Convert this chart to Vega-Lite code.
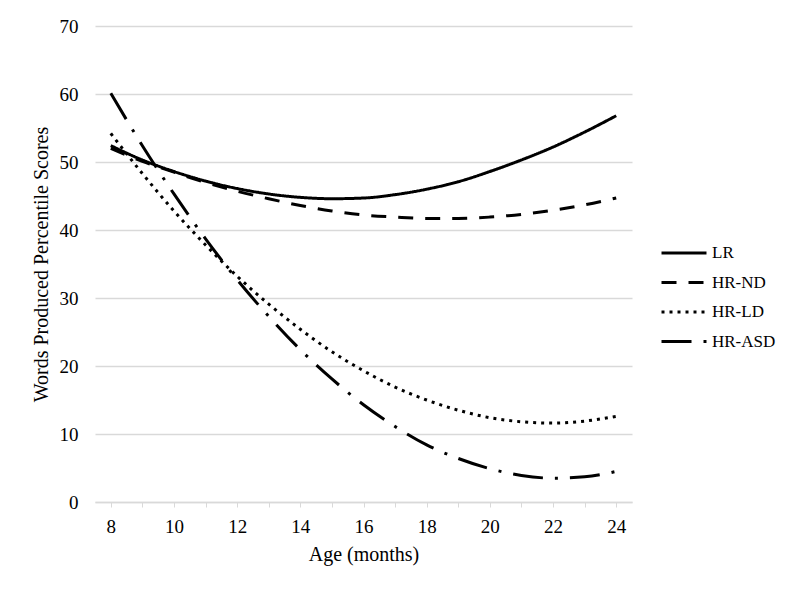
{
  "$schema": "https://vega.github.io/schema/vega-lite/v6.json",
  "width": 537,
  "height": 476,
  "autosize": {"type": "none"},
  "padding": {"left": 95, "top": 26, "right": 168, "bottom": 92},
  "background": "white",
  "config": {
    "view": {"stroke": null},
    "font": "Liberation Serif"
  },
  "data": {
    "values": [
      {"month": 8, "value": 52.4, "group": "LR"},
      {"month": 9, "value": 50.3, "group": "LR"},
      {"month": 10, "value": 48.6, "group": "LR"},
      {"month": 11, "value": 47.2, "group": "LR"},
      {"month": 12, "value": 46.1, "group": "LR"},
      {"month": 13, "value": 45.3, "group": "LR"},
      {"month": 14, "value": 44.8, "group": "LR"},
      {"month": 15, "value": 44.6, "group": "LR"},
      {"month": 16, "value": 44.7, "group": "LR"},
      {"month": 17, "value": 45.2, "group": "LR"},
      {"month": 18, "value": 46.0, "group": "LR"},
      {"month": 19, "value": 47.1, "group": "LR"},
      {"month": 20, "value": 48.6, "group": "LR"},
      {"month": 21, "value": 50.3, "group": "LR"},
      {"month": 22, "value": 52.2, "group": "LR"},
      {"month": 23, "value": 54.4, "group": "LR"},
      {"month": 24, "value": 56.8, "group": "LR"},
      {"month": 8, "value": 52.0, "group": "HR-ND"},
      {"month": 9, "value": 50.1, "group": "HR-ND"},
      {"month": 10, "value": 48.5, "group": "HR-ND"},
      {"month": 11, "value": 47.0, "group": "HR-ND"},
      {"month": 12, "value": 45.7, "group": "HR-ND"},
      {"month": 13, "value": 44.6, "group": "HR-ND"},
      {"month": 14, "value": 43.6, "group": "HR-ND"},
      {"month": 15, "value": 42.8, "group": "HR-ND"},
      {"month": 16, "value": 42.2, "group": "HR-ND"},
      {"month": 17, "value": 41.9, "group": "HR-ND"},
      {"month": 18, "value": 41.7, "group": "HR-ND"},
      {"month": 19, "value": 41.7, "group": "HR-ND"},
      {"month": 20, "value": 41.9, "group": "HR-ND"},
      {"month": 21, "value": 42.3, "group": "HR-ND"},
      {"month": 22, "value": 42.9, "group": "HR-ND"},
      {"month": 23, "value": 43.7, "group": "HR-ND"},
      {"month": 24, "value": 44.7, "group": "HR-ND"},
      {"month": 8, "value": 54.2, "group": "HR-LD"},
      {"month": 9, "value": 48.3, "group": "HR-LD"},
      {"month": 10, "value": 42.8, "group": "HR-LD"},
      {"month": 11, "value": 37.8, "group": "HR-LD"},
      {"month": 12, "value": 33.2, "group": "HR-LD"},
      {"month": 13, "value": 29.1, "group": "HR-LD"},
      {"month": 14, "value": 25.4, "group": "HR-LD"},
      {"month": 15, "value": 22.1, "group": "HR-LD"},
      {"month": 16, "value": 19.3, "group": "HR-LD"},
      {"month": 17, "value": 16.9, "group": "HR-LD"},
      {"month": 18, "value": 15.0, "group": "HR-LD"},
      {"month": 19, "value": 13.5, "group": "HR-LD"},
      {"month": 20, "value": 12.4, "group": "HR-LD"},
      {"month": 21, "value": 11.8, "group": "HR-LD"},
      {"month": 22, "value": 11.6, "group": "HR-LD"},
      {"month": 23, "value": 11.9, "group": "HR-LD"},
      {"month": 24, "value": 12.6, "group": "HR-LD"},
      {"month": 8, "value": 60.1, "group": "HR-ASD"},
      {"month": 9, "value": 52.4, "group": "HR-ASD"},
      {"month": 10, "value": 45.3, "group": "HR-ASD"},
      {"month": 11, "value": 38.7, "group": "HR-ASD"},
      {"month": 12, "value": 32.7, "group": "HR-ASD"},
      {"month": 13, "value": 27.3, "group": "HR-ASD"},
      {"month": 14, "value": 22.4, "group": "HR-ASD"},
      {"month": 15, "value": 18.1, "group": "HR-ASD"},
      {"month": 16, "value": 14.3, "group": "HR-ASD"},
      {"month": 17, "value": 11.1, "group": "HR-ASD"},
      {"month": 18, "value": 8.4, "group": "HR-ASD"},
      {"month": 19, "value": 6.4, "group": "HR-ASD"},
      {"month": 20, "value": 4.9, "group": "HR-ASD"},
      {"month": 21, "value": 3.9, "group": "HR-ASD"},
      {"month": 22, "value": 3.5, "group": "HR-ASD"},
      {"month": 23, "value": 3.7, "group": "HR-ASD"},
      {"month": 24, "value": 4.5, "group": "HR-ASD"}
    ]
  },
  "mark": {"type": "line", "color": "black", "strokeWidth": 3, "interpolate": "monotone"},
  "encoding": {
    "x": {
      "field": "month",
      "type": "quantitative",
      "scale": {"domain": [7.5, 24.5], "nice": false, "zero": false},
      "axis": {
        "title": "Age (months)",
        "values": [8, 9, 10, 11, 12, 13, 14, 15, 16, 17, 18, 19, 20, 21, 22, 23, 24],
        "labelExpr": "datum.value % 2 == 0 ? datum.label : ''",
        "grid": false,
        "domainColor": "#d9d9d9",
        "domainWidth": 1.5,
        "tickColor": "#d9d9d9",
        "tickSize": 5,
        "labelFont": "Liberation Serif",
        "labelFontSize": 19,
        "labelColor": "#000000",
        "labelPadding": 10,
        "titleFont": "Liberation Serif",
        "titleFontSize": 20,
        "titleFontWeight": "normal",
        "titleColor": "#000000",
        "titlePadding": 8
      }
    },
    "y": {
      "field": "value",
      "type": "quantitative",
      "scale": {"domain": [0, 70], "nice": false},
      "axis": {
        "title": "Words Produced Percentile Scores",
        "values": [0, 10, 20, 30, 40, 50, 60, 70],
        "grid": true,
        "gridColor": "#d9d9d9",
        "gridWidth": 1.5,
        "domain": false,
        "ticks": false,
        "labelFont": "Liberation Serif",
        "labelFontSize": 19,
        "labelColor": "#000000",
        "labelPadding": 17,
        "titleFont": "Liberation Serif",
        "titleFontSize": 20,
        "titleFontWeight": "normal",
        "titleColor": "#000000",
        "titlePadding": 8
      }
    },
    "strokeDash": {
      "field": "group",
      "type": "nominal",
      "scale": {
        "domain": ["LR", "HR-ND", "HR-LD", "HR-ASD"],
        "range": [[1, 0], [15, 12], [3, 5], [30, 12, 3, 12]]
      },
      "legend": {
        "title": null,
        "orient": "none",
        "legendX": 576,
        "legendY": 214,
        "padding": 0,
        "symbolType": "M-2,0H2",
        "symbolSize": 506,
        "symbolStrokeWidth": 3,
        "symbolStrokeColor": "black",
        "labelFont": "Liberation Serif",
        "labelFontSize": 17,
        "labelColor": "#000000",
        "labelOffset": 15,
        "rowPadding": 8.5
      }
    }
  }
}
